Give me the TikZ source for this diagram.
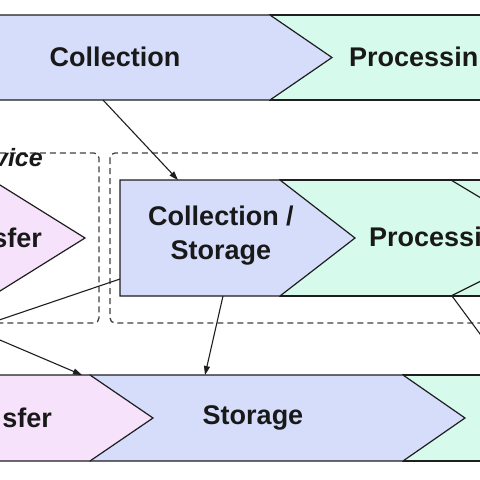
\documentclass[tikz,border=0pt]{standalone}
\usepackage{fontspec}
\setmainfont{Liberation Sans}
\usetikzlibrary{arrows.meta}
\definecolor{collblue}{RGB}{213,221,251}
\definecolor{proccyan}{RGB}{214,251,236}
\definecolor{transpink}{RGB}{246,226,250}
\definecolor{edgegray}{RGB}{30,30,30}
\begin{document}
\begin{tikzpicture}[x=1pt,y=-1pt,
    stage/.style={draw=edgegray,line width=1.2pt,line join=miter},
    stagetext/.style={font=\fontsize{27}{34}\selectfont\bfseries,text=black!90,inner sep=0pt,align=center},
    group/.style={draw=black!75,line width=1.3pt,dash pattern=on 6pt off 4pt,rounded corners=5pt},
    flow/.style={draw=edgegray,line width=1.1pt,-{Triangle[length=9pt,width=6pt]}}]
  \useasboundingbox (0,0) rectangle (480,480);
  % groups
  \draw[group] (-30,153) rectangle (99,323);
  \draw[group] (110,153) rectangle (520,323);
  % top row
  \draw[stage,fill=proccyan] (270,15) rectangle (490,100);
  \draw[stage,fill=collblue] (-10,15) -- (270,15) -- (332,57.5) -- (270,100) -- (-10,100) -- cycle;
  % middle row
  \draw[stage,fill=transpink] (-30,180) -- (-8,180) -- (85,238) -- (-8,296) -- (-30,296) -- cycle;
  \draw[stage,fill=proccyan] (280,180) rectangle (490,296);
  \draw[stage] (451,180) -- (490,203.4);
  \draw[stage] (451,296) -- (490,276.5);
  \draw[stage,fill=collblue] (120,180) -- (280,180) -- (355,238) -- (280,296) -- (120,296) -- cycle;
  % bottom row
  \draw[stage,fill=proccyan] (403,375) rectangle (490,461);
  \draw[stage,fill=collblue] (90,375) -- (403,375) -- (465,418) -- (403,461) -- (90,461) -- cycle;
  \draw[stage,fill=transpink] (-10,375) -- (90,375) -- (153,418) -- (90,461) -- (-10,461) -- cycle;
  % labels
  \node[stagetext] (coll) at (115,57) {Collection};
  \node[stagetext,anchor=west] (proc1) at (349,57) {Processin};
  \node[stagetext,anchor=east,font=\fontsize{25}{30}\selectfont\bfseries\itshape] (dev) at (43,158) {vice};
  \node[stagetext,anchor=east] (trans1) at (42,238) {sfer};
  \node[stagetext] (cs) at (221,236) {Collection /\\Storage};
  \node[stagetext,anchor=west] (proc2) at (369,237) {Processi};
  \node[stagetext,anchor=east] (trans2) at (52,418) {sfer};
  \node[stagetext] (stor) at (253,418) {Storage};
  % connector ends
  \coordinate (coll-out) at (103,100);
  \coordinate (cs-in) at (178,180);
  \coordinate (cs-left) at (120,279);
  \coordinate (left-end) at (-45,335);
  \coordinate (left-start) at (-40,323);
  \coordinate (trans-in) at (82,375);
  \coordinate (cs-out) at (223,296);
  \coordinate (stor-in) at (205,375);
  \coordinate (proc-out) at (452,296);
  \coordinate (right-end) at (500,361);
  \draw[flow] (coll-out) to (cs-in);
  \draw[flow] (cs-left) to (left-end);
  \draw[flow] (left-start) to (trans-in);
  \draw[flow] (cs-out) to (stor-in);
  \draw[flow] (proc-out) to (right-end);
\end{tikzpicture}
\end{document}
